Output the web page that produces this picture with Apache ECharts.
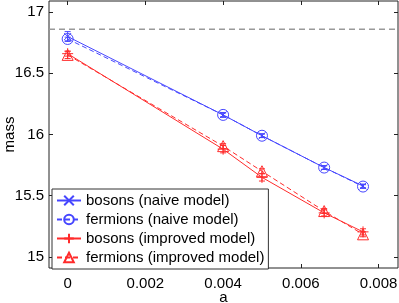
<!DOCTYPE html>
<html><head><meta charset="utf-8">
<script src="https://cdn.jsdelivr.net/npm/echarts@6/dist/echarts.min.js"></script>
<style>html,body{margin:0;padding:0;background:#fff}#c{width:399px;height:303px}</style>
</head><body><div id="c"></div>
<script>
const aValues = [0, 0.004, 0.005, 0.0066, 0.0076];
const bosonsNaive = [16.80, 16.16, 15.99, 15.73, 15.58];
const bosonsNaiveErr = [0.04, 0.02, 0.015, 0.015, 0.015];
const fermionsNaive = [16.78, 16.16, 15.99, 15.73, 15.575];
const fermionsNaiveErr = [0.015, 0.015, 0.015, 0.015, 0.015];
const bosonsImproved = [16.66, 15.88, 15.65, 15.36, 15.205];
const bosonsImprovedErr = [0.02, 0.03, 0.03, 0.025, 0.025];
const fermionsImproved = [16.65, 15.905, 15.70, 15.375, 15.185];
const fermionsImprovedErr = [0.03, 0.02, 0.02, 0.02, 0.02];
const continuumMass = 16.86;
const xRange = [-0.00048, 0.0085];
const yRange = [14.91, 17.09];
const xTicks = [0, 0.002, 0.004, 0.006, 0.008];
const yTicks = [15, 15.5, 16, 16.5, 17];
const seriesNames = ['bosons (naive model)', 'fermions (naive model)', 'bosons (improved model)', 'fermions (improved model)'];

const BLUE = '#4646ff', RED = '#ff2b2b';
const font = 'Liberation Sans, Arial, Helvetica, sans-serif';
const pairs = (ys) => aValues.map((x, i) => [x, ys[i]]);
const xSym = 'path://M0,0L10,10M10,0L0,10';
const pSym = 'path://M5,0L5,10M0,5L10,5';

function errSeries(ys, errs, color) {
  return {
    type: 'custom', silent: true, z: 3, clip: true,
    data: aValues.map((x, i) => [x, ys[i], errs[i]]),
    encode: { x: 0, y: 1 },
    renderItem: (params, api) => {
      const x = api.value(0), y = api.value(1), e = api.value(2);
      const lo = api.coord([x, y - e]);
      const hi = api.coord([x, y + e]);
      const w = 3;
      const st = { stroke: color, lineWidth: 1, fill: null };
      return { type: 'group', children: [
        { type: 'line', shape: { x1: lo[0], y1: lo[1], x2: hi[0], y2: hi[1] }, style: st },
        { type: 'line', shape: { x1: lo[0]-w, y1: lo[1], x2: lo[0]+w, y2: lo[1] }, style: st },
        { type: 'line', shape: { x1: hi[0]-w, y1: hi[1], x2: hi[0]+w, y2: hi[1] }, style: st }
      ]};
    }
  };
}

function lineSeries(name, ys, color, dashed, symbol, size) {
  return {
    name, type: 'line', data: pairs(ys), symbol, symbolSize: size, z: 4,
    showAllSymbol: true,
    lineStyle: { color, width: 1, type: dashed ? [5, 3] : 'solid' },
    itemStyle: { color: 'transparent', borderColor: color, borderWidth: 1 },
    emphasis: { disabled: true }
  };
}

const chart = echarts.init(document.getElementById('c'));
const axisCommon = {
  axisLine: { show: false, onZero: false },
  splitLine: { show: false },
  minorSplitLine: { show: false },
  splitArea: { show: false },
  nameMoveOverlap: false
};
const tickStyle = { inside: true, length: 4, lineStyle: { color: '#222' } };
chart.setOption({
  animation: false,
  grid: { left: 49, right: 1, top: 1, bottom: 35, show: true, borderColor: '#222', borderWidth: 1,
    backgroundColor: 'transparent', containLabel: false, outerBoundsMode: 'none' },
  legend: {
    orient: 'vertical', left: 52, top: 189,
    data: seriesNames,
    itemWidth: 24, itemHeight: 12, itemGap: 4,
    padding: [4, 4, 4, 4],
    borderColor: '#333', borderWidth: 1, backgroundColor: '#fff',
    textStyle: { fontFamily: font, fontSize: 15, color: '#000' },
    inactiveColor: '#ccc'
  },
  xAxis: [{
    type: 'value', min: xRange[0], max: xRange[1], position: 'bottom',
    name: 'a', nameLocation: 'middle', nameGap: 22,
    nameTextStyle: { fontFamily: font, fontSize: 15, color: '#000' },
    ...axisCommon,
    axisTick: { ...tickStyle, customValues: xTicks },
    axisLabel: { customValues: xTicks, fontFamily: font, fontSize: 15, color: '#000', margin: 8,
      formatter: v => (Math.abs(v) < 1e-12 ? '0' : v.toFixed(3)) }
  }, {
    type: 'value', min: xRange[0], max: xRange[1], position: 'top',
    ...axisCommon,
    axisTick: { ...tickStyle, customValues: xTicks },
    axisLabel: { show: false }
  }],
  yAxis: [{
    type: 'value', min: yRange[0], max: yRange[1], position: 'left',
    name: 'mass', nameLocation: 'middle', nameGap: 32,
    nameTextStyle: { fontFamily: font, fontSize: 15, color: '#000' },
    ...axisCommon,
    axisTick: { ...tickStyle, customValues: yTicks },
    axisLabel: { customValues: yTicks, fontFamily: font, fontSize: 15, color: '#000', margin: 5,
      formatter: v => String(v) }
  }, {
    type: 'value', min: yRange[0], max: yRange[1], position: 'right',
    ...axisCommon,
    axisTick: { ...tickStyle, customValues: yTicks },
    axisLabel: { show: false }
  }],
  series: [
    {
      name: 'continuum', type: 'line', symbol: 'none', silent: true, z: 2,
      data: [[xRange[0], continuumMass], [xRange[1], continuumMass]],
      lineStyle: { color: '#999', type: [6, 4], width: 1.5 },
      emphasis: { disabled: true }
    },
    errSeries(bosonsNaive, bosonsNaiveErr, BLUE),
    errSeries(fermionsNaive, fermionsNaiveErr, BLUE),
    errSeries(bosonsImproved, bosonsImprovedErr, RED),
    errSeries(fermionsImproved, fermionsImprovedErr, RED),
    lineSeries(seriesNames[0], bosonsNaive, BLUE, false, xSym, 7),
    lineSeries(seriesNames[1], fermionsNaive, BLUE, true, 'circle', 11),
    lineSeries(seriesNames[2], bosonsImproved, RED, false, pSym, 11),
    lineSeries(seriesNames[3], fermionsImproved, RED, true, 'triangle', 11)
  ]
});
</script></body></html>
